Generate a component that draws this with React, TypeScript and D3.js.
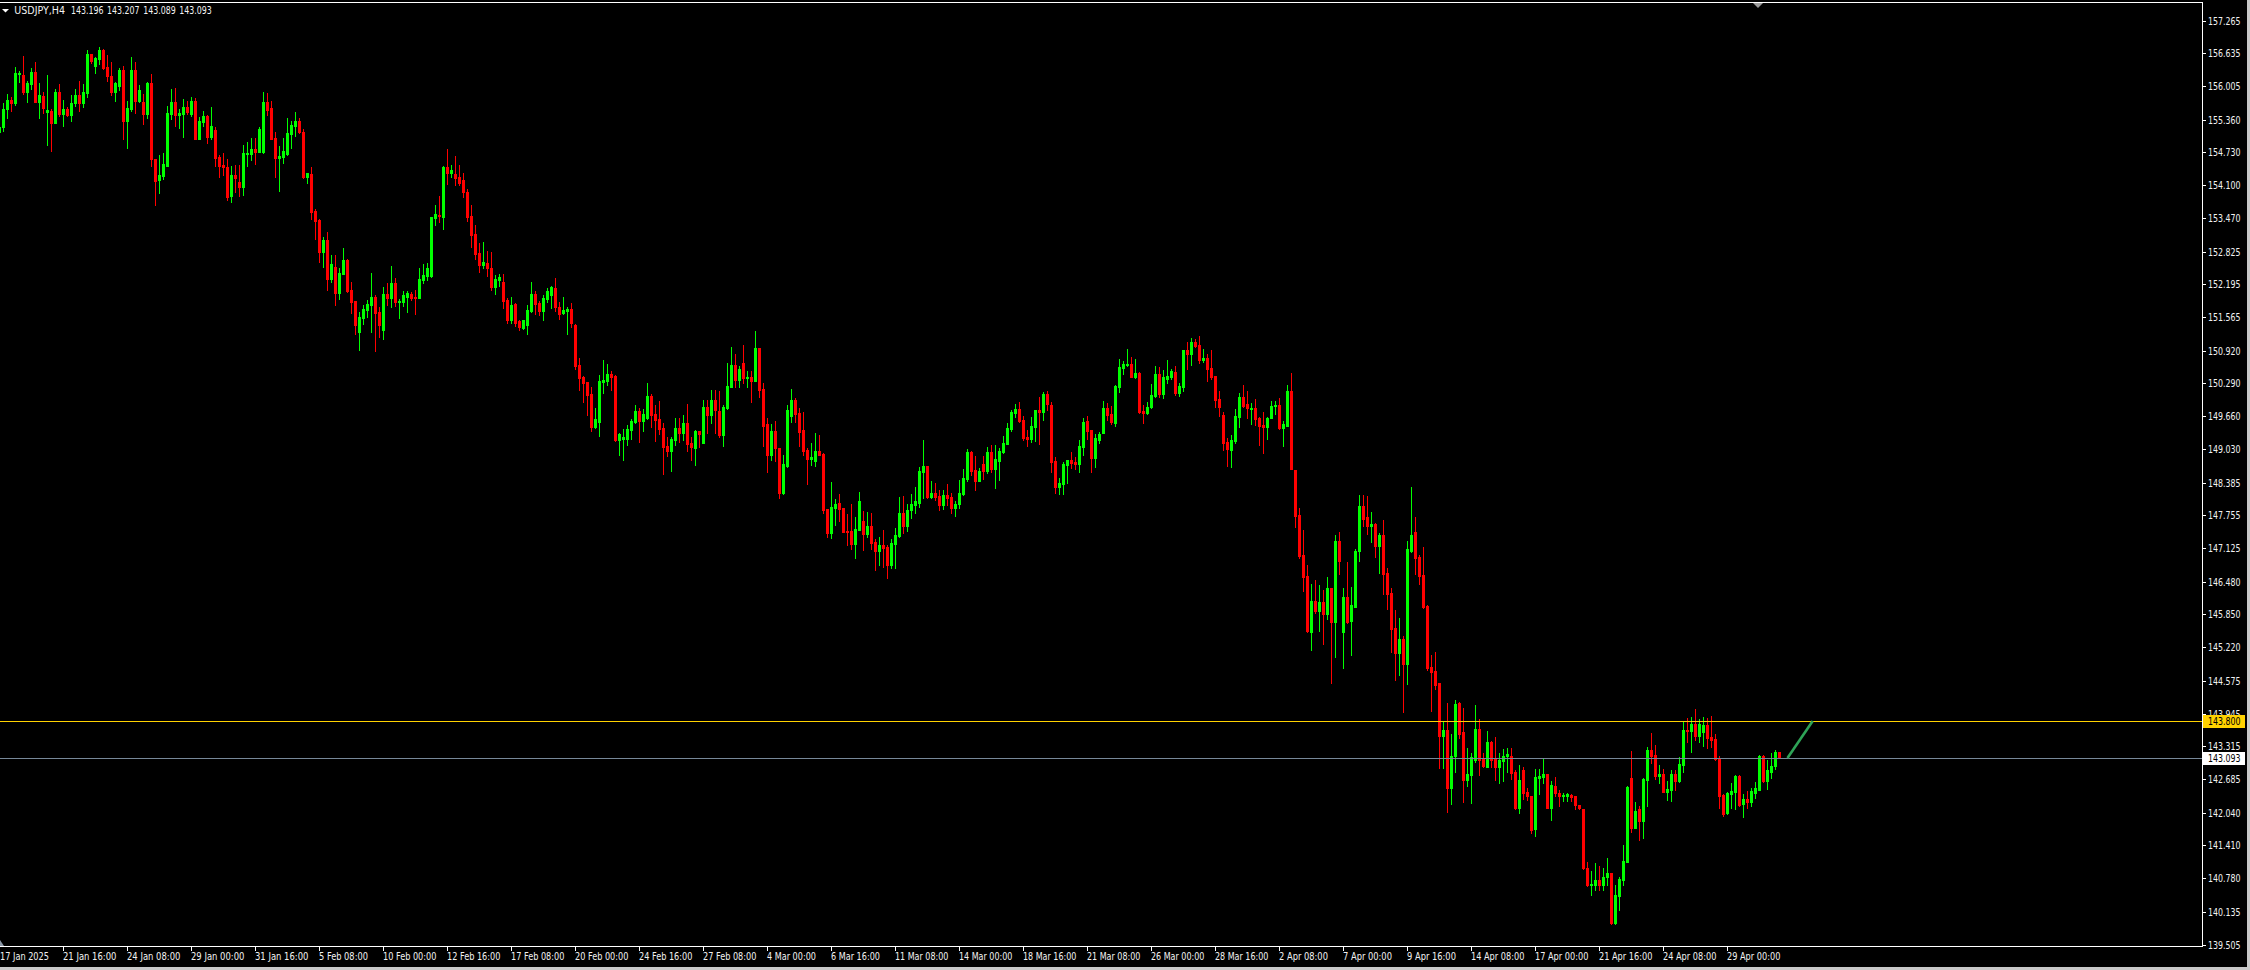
import * as d3 from "d3"

const symbolName = "USDJPY,H4"
const lastQuote = ["143.196", "143.207", "143.089", "143.093"]

// H4 bars as [open, high, low, close], 17 Jan 2025 00:00 onwards
const bars17Jan = [
  [155.12, 155.26, 155.10, 155.21], [155.21, 155.67, 155.15, 155.56], [155.56, 155.85, 155.40, 155.74], [155.74, 155.79, 155.53, 155.67],
  [155.67, 156.37, 155.65, 156.26], [156.24, 156.29, 156.09, 156.26], [156.22, 156.58, 155.85, 155.90], [155.90, 156.11, 155.70, 156.06],
  [156.05, 156.35, 155.94, 156.28], [156.28, 156.47, 155.70, 155.70], [155.70, 156.06, 155.40, 155.83], [155.81, 155.89, 155.48, 155.59],
  [155.51, 156.22, 154.88, 155.54], [155.53, 155.56, 154.76, 155.30], [155.30, 155.95, 155.30, 155.89], [155.89, 156.04, 155.43, 155.47],
  [155.47, 155.74, 155.24, 155.56], [155.56, 155.61, 155.42, 155.45], [155.44, 155.83, 155.34, 155.68], [155.67, 155.95, 155.63, 155.83],
  [155.83, 156.10, 155.53, 155.67], [155.67, 156.04, 155.61, 155.89], [155.88, 156.70, 155.80, 156.62], [156.62, 156.63, 156.44, 156.49],
  [156.40, 156.57, 156.26, 156.54], [156.53, 156.76, 156.43, 156.70], [156.70, 156.72, 156.33, 156.36], [156.37, 156.60, 156.10, 156.19],
  [156.20, 156.47, 155.83, 155.89], [155.89, 156.09, 155.72, 156.06], [156.01, 156.35, 155.93, 156.31], [156.31, 156.39, 154.99, 155.34],
  [155.34, 155.72, 154.82, 155.58], [155.56, 156.56, 155.53, 156.31], [156.31, 156.47, 155.49, 155.72], [155.72, 156.03, 155.70, 155.93],
  [155.70, 155.85, 155.28, 155.47], [155.47, 156.08, 155.40, 156.06], [156.06, 156.24, 154.46, 154.60], [154.60, 154.60, 153.71, 154.18],
  [154.19, 154.68, 153.94, 154.30], [154.28, 154.72, 154.21, 154.51], [154.46, 155.62, 154.46, 155.49], [155.47, 155.95, 155.37, 155.70],
  [155.70, 155.97, 155.24, 155.44], [155.44, 155.56, 155.19, 155.49], [155.47, 155.76, 155.03, 155.60], [155.60, 155.72, 155.47, 155.51],
  [155.47, 155.79, 155.42, 155.72], [155.72, 155.78, 154.99, 154.99], [154.99, 155.41, 154.99, 155.33], [155.32, 155.53, 155.24, 155.43],
  [155.43, 155.45, 154.92, 155.03], [155.03, 155.60, 154.99, 155.24], [155.16, 155.22, 154.46, 154.63], [154.64, 154.68, 154.26, 154.47],
  [154.49, 154.72, 154.30, 154.44], [154.45, 154.60, 153.82, 153.88], [153.90, 154.47, 153.78, 154.30], [154.30, 154.49, 153.97, 154.24],
  [154.16, 154.49, 153.90, 154.07], [154.07, 154.87, 153.92, 154.72], [154.70, 154.93, 154.47, 154.72], [154.70, 155.01, 154.59, 154.80],
  [154.80, 155.01, 154.51, 154.74], [154.74, 155.22, 154.74, 155.18], [154.74, 155.89, 154.72, 155.70], [155.70, 155.87, 155.45, 155.55],
  [155.58, 155.72, 154.99, 154.99], [155.01, 155.12, 154.26, 154.63], [154.63, 154.85, 153.99, 154.66], [154.65, 155.01, 154.53, 154.76],
  [154.70, 155.39, 154.68, 155.10], [155.09, 155.33, 154.82, 155.26], [155.24, 155.51, 155.05, 155.33], [155.33, 155.39, 155.10, 155.13],
]

const bars04Feb = [
  [155.13, 155.18, 154.24, 154.25], [154.26, 154.33, 154.15, 154.33], [154.32, 154.44, 153.45, 153.59], [153.61, 153.64, 153.07, 153.42],
  [153.44, 153.45, 152.63, 152.82], [152.82, 153.10, 152.53, 153.05], [153.05, 153.20, 152.09, 152.29], [152.29, 152.76, 152.23, 152.58],
  [152.53, 152.76, 151.80, 152.02], [152.02, 152.51, 151.92, 152.41], [152.40, 152.89, 152.40, 152.66], [152.66, 152.68, 152.05, 152.07],
  [152.08, 152.23, 151.65, 151.86], [151.87, 151.87, 151.23, 151.42], [151.28, 151.67, 150.94, 151.57], [151.55, 151.80, 151.44, 151.72],
  [151.70, 151.90, 151.57, 151.82], [151.80, 152.41, 151.28, 151.95], [151.96, 151.99, 150.92, 151.65], [151.67, 151.75, 151.19, 151.42],
  [151.32, 152.15, 151.15, 152.01], [152.01, 152.21, 151.80, 151.94], [151.94, 152.55, 151.75, 152.21], [152.21, 152.32, 151.78, 151.86],
  [151.86, 151.92, 151.55, 151.87], [151.86, 152.07, 151.78, 151.99], [151.96, 152.07, 151.67, 152.02], [152.01, 152.05, 151.90, 151.94],
  [151.96, 152.09, 151.63, 151.94], [151.94, 152.51, 151.94, 152.30], [152.28, 152.58, 152.21, 152.38], [152.36, 152.60, 152.28, 152.50],
  [152.36, 153.49, 152.34, 153.48], [153.46, 153.72, 153.34, 153.55], [153.53, 153.90, 153.40, 153.50], [153.49, 154.46, 153.26, 154.44],
  [154.44, 154.79, 154.13, 154.34], [154.34, 154.49, 154.26, 154.40], [154.32, 154.67, 154.11, 154.24], [154.26, 154.49, 154.11, 154.15],
  [154.19, 154.34, 153.88, 153.96], [153.97, 154.03, 153.42, 153.49], [153.51, 153.72, 152.91, 153.15], [153.17, 153.34, 152.69, 152.78],
  [152.80, 152.99, 152.44, 152.57], [152.57, 153.01, 152.51, 152.62], [152.60, 152.83, 152.36, 152.50], [152.51, 152.81, 152.09, 152.15],
  [152.15, 152.38, 152.01, 152.30], [152.28, 152.39, 152.17, 152.34], [152.23, 152.39, 151.73, 151.88], [151.90, 151.94, 151.46, 151.51],
  [151.51, 151.95, 151.46, 151.80], [151.82, 151.84, 151.40, 151.46], [151.48, 151.50, 151.32, 151.38], [151.36, 151.51, 151.34, 151.50],
  [151.42, 151.80, 151.23, 151.71], [151.69, 152.23, 151.67, 152.01], [152.01, 152.07, 151.63, 151.82], [151.84, 151.88, 151.61, 151.69],
  [151.69, 151.98, 151.51, 151.94], [151.92, 152.13, 151.86, 152.07], [151.98, 152.17, 151.73, 152.15], [152.13, 152.32, 151.69, 151.75],
  [151.75, 151.86, 151.53, 151.63], [151.65, 151.96, 151.63, 151.71], [151.69, 151.76, 151.23, 151.72], [151.72, 151.84, 151.38, 151.46],
  [151.42, 151.44, 150.57, 150.63], [150.64, 150.77, 150.17, 150.40], [150.42, 150.44, 149.94, 150.30], [150.32, 150.32, 149.69, 150.07],
  [150.09, 150.23, 149.38, 149.46], [149.46, 149.82, 149.44, 149.61], [149.54, 150.45, 149.27, 150.34],
]

const bars21Feb = [
  [150.32, 150.74, 150.11, 150.35], [150.34, 150.66, 150.25, 150.47], [150.47, 150.53, 150.17, 150.41], [150.43, 150.45, 149.18, 149.20],
  [149.21, 149.34, 148.92, 149.32], [149.23, 149.42, 148.82, 149.25], [149.23, 149.49, 149.11, 149.42], [149.40, 149.61, 149.23, 149.57],
  [149.55, 149.88, 149.53, 149.76], [149.76, 149.82, 149.17, 149.57], [149.57, 149.80, 149.38, 149.70], [149.63, 150.30, 149.61, 150.05],
  [150.05, 150.09, 149.46, 149.68], [149.70, 149.87, 149.19, 149.59], [149.61, 149.95, 149.32, 149.42], [149.44, 149.53, 148.55, 149.07],
  [149.09, 149.25, 148.90, 148.99], [149.00, 149.25, 148.61, 149.23], [149.21, 149.62, 149.11, 149.43], [149.43, 149.62, 149.17, 149.34],
  [149.34, 149.68, 149.21, 149.53], [149.53, 149.89, 149.00, 149.13], [149.15, 149.25, 148.81, 149.07], [149.04, 149.40, 148.73, 149.38],
  [149.38, 149.38, 149.07, 149.32], [149.15, 149.97, 149.15, 149.84], [149.84, 149.97, 149.34, 149.68], [149.68, 150.16, 149.52, 149.97],
  [149.97, 150.16, 149.34, 149.78], [149.76, 150.14, 149.26, 149.29], [149.29, 149.88, 149.09, 149.84], [149.82, 150.68, 149.79, 150.24],
  [150.22, 150.99, 150.22, 150.64], [150.64, 150.86, 150.22, 150.36], [150.36, 150.62, 150.22, 150.57], [150.68, 151.03, 150.30, 150.39],
  [150.39, 150.53, 150.22, 150.41], [150.41, 150.53, 149.94, 150.34], [150.34, 151.30, 150.34, 150.97], [150.97, 150.97, 150.03, 150.16],
  [150.18, 150.30, 149.09, 149.47], [149.51, 149.62, 148.59, 148.92], [148.92, 149.51, 148.82, 149.38], [149.38, 149.57, 148.79, 149.04],
  [149.05, 149.05, 148.09, 148.19], [148.19, 148.92, 148.17, 148.75], [148.71, 149.88, 148.69, 149.78], [149.66, 150.18, 149.55, 149.97],
  [149.97, 150.01, 149.55, 149.70], [149.72, 149.82, 149.09, 149.36], [149.39, 149.74, 148.92, 149.00], [149.01, 149.04, 148.36, 148.84],
  [148.84, 149.14, 148.73, 148.88], [148.80, 149.34, 148.71, 149.00], [149.00, 149.30, 148.92, 148.92], [148.94, 148.96, 147.79, 147.86],
  [147.88, 147.88, 147.34, 147.42], [147.42, 148.40, 147.31, 147.92], [147.90, 148.07, 147.56, 147.98], [147.99, 148.17, 147.65, 147.88],
  [147.90, 147.90, 147.44, 147.44], [147.46, 147.77, 147.19, 147.44], [147.46, 147.98, 147.11, 147.21], [147.21, 147.73, 146.94, 147.50],
  [147.48, 148.21, 147.48, 148.02], [147.65, 147.84, 147.08, 147.40], [147.40, 147.81, 147.33, 147.54], [147.54, 147.79, 147.11, 147.23],
  [147.25, 147.29, 146.71, 147.06], [147.06, 147.33, 146.79, 147.19], [147.19, 147.48, 146.77, 147.13], [147.15, 147.19, 146.54, 146.79],
  [146.79, 147.29, 146.75, 147.23], [147.21, 147.52, 146.75, 147.38], [147.35, 148.11, 147.33, 147.79],
]

const bars13Mar = [
  [147.79, 148.13, 147.42, 147.55], [147.55, 147.98, 147.45, 147.85], [147.85, 148.17, 147.70, 147.98], [147.95, 148.30, 147.80, 148.02],
  [148.00, 148.68, 147.92, 148.61], [148.59, 149.20, 148.08, 148.70], [148.70, 148.70, 148.08, 148.11], [148.11, 148.41, 148.08, 148.19],
  [148.19, 148.38, 148.05, 148.11], [148.13, 148.24, 147.85, 147.95], [147.95, 148.24, 147.88, 148.15], [148.15, 148.36, 147.95, 148.08],
  [148.10, 148.18, 147.80, 147.90], [147.90, 148.02, 147.75, 147.98], [147.98, 148.43, 147.90, 148.19], [148.17, 148.65, 148.15, 148.47],
  [148.45, 149.03, 148.42, 148.98], [148.98, 149.00, 148.52, 148.61], [148.63, 148.89, 148.25, 148.42], [148.42, 148.67, 148.42, 148.61],
  [148.74, 148.89, 148.46, 148.61], [148.61, 149.07, 148.56, 148.97], [148.97, 149.11, 148.59, 148.65], [148.65, 149.11, 148.27, 148.84],
  [148.80, 149.05, 148.44, 148.99], [148.97, 149.28, 148.95, 149.15], [149.13, 149.53, 149.13, 149.43], [149.41, 149.78, 149.38, 149.74],
  [149.72, 149.89, 149.65, 149.80], [149.80, 149.93, 149.55, 149.57], [149.59, 149.67, 149.20, 149.24], [149.26, 149.39, 149.09, 149.22],
  [149.22, 149.65, 149.17, 149.47], [149.45, 149.78, 149.18, 149.78], [149.78, 150.03, 149.13, 149.74], [149.74, 150.13, 149.59, 150.09],
  [150.09, 150.15, 149.78, 149.89], [149.88, 149.93, 148.59, 148.78], [148.80, 148.88, 148.19, 148.29], [148.29, 148.47, 148.17, 148.38],
  [148.36, 148.78, 148.17, 148.74], [148.72, 148.82, 148.38, 148.82], [148.82, 148.97, 148.67, 148.76], [148.78, 148.88, 148.65, 148.74],
  [148.74, 149.20, 148.58, 149.09], [149.07, 149.63, 148.91, 149.55], [149.57, 149.67, 149.22, 149.38], [149.39, 149.39, 148.59, 148.86],
  [148.86, 149.32, 148.69, 149.24], [149.20, 149.36, 149.15, 149.32], [149.34, 149.95, 149.34, 149.82], [149.82, 149.91, 149.59, 149.68],
  [149.70, 149.86, 149.51, 149.55], [149.53, 150.26, 149.47, 150.24], [150.22, 150.76, 150.13, 150.61], [150.59, 150.72, 150.47, 150.66],
  [150.64, 150.95, 150.63, 150.66], [150.66, 150.80, 150.41, 150.41], [150.41, 150.76, 150.39, 150.49], [150.49, 150.51, 149.72, 149.74],
  [149.76, 149.88, 149.53, 149.72], [149.72, 149.93, 149.70, 149.84], [149.84, 150.28, 149.82, 150.07], [150.05, 150.63, 150.03, 150.47],
  [150.47, 150.61, 150.03, 150.09], [150.09, 150.55, 150.01, 150.41], [150.37, 150.74, 150.30, 150.43], [150.41, 150.57, 150.37, 150.53],
  [150.51, 150.63, 150.07, 150.11], [150.11, 150.30, 150.05, 150.24], [150.22, 150.93, 150.15, 150.93], [150.93, 151.09, 150.57, 150.86],
  [150.86, 151.16, 150.64, 151.09], [151.09, 151.14, 150.99, 151.01],
]

const bars28Mar = [
  [151.03, 151.20, 150.68, 150.74], [150.74, 150.95, 150.70, 150.78], [150.78, 150.86, 150.34, 150.57], [150.59, 150.93, 150.38, 150.41],
  [150.43, 150.43, 149.84, 149.97], [149.99, 150.15, 149.66, 149.84], [149.68, 149.74, 149.01, 149.15], [149.17, 149.24, 148.70, 149.03],
  [149.01, 149.30, 148.68, 149.20], [149.18, 149.80, 149.15, 149.66], [149.65, 150.11, 149.45, 150.03], [150.03, 150.26, 149.84, 149.86],
  [149.89, 150.15, 149.63, 149.82], [149.80, 149.91, 149.51, 149.82], [149.82, 149.99, 149.49, 149.61], [149.63, 149.65, 149.11, 149.47],
  [149.49, 149.74, 148.95, 149.45], [149.45, 149.65, 149.22, 149.63], [149.63, 149.95, 149.63, 149.86], [149.86, 149.95, 149.70, 149.88],
  [149.88, 150.01, 149.41, 149.43], [149.43, 149.57, 149.09, 149.51], [149.47, 150.26, 149.47, 150.15], [150.15, 150.49, 148.65, 148.65],
  [148.63, 148.63, 147.53, 147.74], [147.76, 147.90, 146.94, 146.98], [147.00, 147.48, 146.29, 146.56], [146.58, 146.79, 145.52, 145.54],
  [145.52, 146.44, 145.17, 146.10], [146.10, 146.52, 145.88, 145.92], [145.92, 146.42, 145.54, 146.08], [146.08, 146.31, 145.29, 145.85],
  [145.85, 146.56, 145.77, 146.35], [146.35, 146.35, 144.54, 145.71], [145.71, 147.37, 145.04, 147.27], [147.27, 147.44, 146.63, 146.88],
  [145.52, 146.35, 144.81, 146.19], [146.19, 146.85, 145.68, 145.71], [145.73, 146.38, 145.06, 146.04], [146.00, 147.10, 146.00, 147.06],
  [147.06, 148.15, 146.88, 147.94], [147.94, 148.15, 147.54, 147.69], [147.73, 148.13, 147.40, 147.54], [147.54, 147.81, 147.25, 147.59],
  [147.59, 147.61, 146.96, 147.17], [147.17, 147.42, 146.65, 147.37], [147.37, 147.67, 146.25, 146.63], [146.65, 146.75, 145.96, 146.25],
  [146.27, 146.35, 145.13, 145.56], [145.58, 145.94, 144.58, 145.10], [145.10, 145.79, 144.69, 145.38], [145.38, 145.44, 143.98, 144.90],
  [144.90, 147.27, 144.52, 147.10], [147.06, 148.29, 147.04, 147.38], [147.44, 147.73, 146.63, 146.94], [146.96, 147.00, 146.44, 146.59],
  [146.61, 147.15, 145.98, 146.00], [146.02, 146.04, 144.79, 144.81], [144.83, 145.06, 143.99, 144.75], [144.77, 145.13, 144.42, 144.50],
  [144.54, 144.54, 142.89, 143.52], [143.52, 143.79, 142.89, 143.62], [143.62, 144.15, 142.06, 142.52], [142.52, 143.56, 142.21, 143.12],
  [143.12, 144.21, 142.83, 144.13], [144.15, 144.17, 143.48, 143.56], [143.58, 144.06, 142.25, 142.67], [142.67, 143.29, 142.56, 142.79],
  [142.77, 143.18, 142.23, 143.10], [143.06, 144.10, 143.02, 143.65], [143.65, 143.83, 142.77, 143.06], [143.08, 143.19, 142.91, 142.94],
  [142.92, 143.60, 142.91, 143.39], [143.39, 143.41, 142.91, 143.06], [143.08, 143.50, 142.67, 142.92],
]

const bars16Apr = [
  [142.92, 143.18, 142.60, 143.05], [143.04, 143.26, 142.65, 143.13], [143.12, 143.28, 142.83, 143.17], [143.13, 143.29, 142.69, 142.81],
  [142.83, 142.85, 142.10, 142.13], [142.13, 142.96, 142.04, 142.67], [142.85, 142.92, 142.31, 142.42], [142.44, 142.52, 142.29, 142.35],
  [142.35, 142.35, 141.64, 141.71], [141.73, 142.87, 141.60, 142.73], [142.71, 142.87, 142.39, 142.74], [142.73, 143.08, 142.60, 142.79],
  [142.79, 142.79, 142.13, 142.13], [142.13, 142.64, 141.89, 142.58], [142.56, 142.73, 142.35, 142.42], [142.42, 142.48, 142.16, 142.35],
  [142.35, 142.42, 142.27, 142.37], [142.35, 142.42, 142.27, 142.39], [142.38, 142.39, 142.26, 142.34], [142.36, 142.36, 142.10, 142.18],
  [142.18, 142.18, 142.11, 142.12], [142.11, 142.11, 140.95, 140.97], [140.98, 141.09, 140.62, 140.64], [140.64, 140.91, 140.46, 140.66],
  [140.64, 141.07, 140.56, 140.75], [140.75, 141.01, 140.56, 140.64], [140.64, 140.98, 140.56, 140.81], [140.81, 141.17, 140.64, 140.87],
  [140.87, 140.87, 139.89, 139.91], [139.91, 140.64, 139.89, 140.46], [140.44, 140.81, 140.16, 140.77], [140.75, 141.41, 140.64, 141.11],
  [141.10, 142.56, 141.10, 142.54], [142.71, 143.23, 141.66, 141.75], [141.75, 142.25, 141.74, 142.08], [142.10, 142.16, 141.52, 141.87],
  [141.87, 142.71, 141.56, 142.69], [142.67, 143.30, 142.17, 143.24], [143.24, 143.57, 143.00, 143.12], [143.15, 143.34, 142.69, 142.75],
  [142.75, 142.96, 142.60, 142.78], [142.79, 142.87, 142.44, 142.44], [142.44, 142.65, 142.28, 142.50], [142.48, 142.85, 142.27, 142.79],
  [142.79, 142.85, 142.48, 142.65], [142.65, 143.11, 142.62, 142.98], [142.96, 143.78, 142.83, 143.63], [143.63, 143.86, 143.40, 143.61],
  [143.61, 143.88, 143.21, 143.74], [143.74, 144.03, 143.44, 143.51], [143.51, 143.84, 143.40, 143.74], [143.59, 143.88, 143.32, 143.72],
  [143.72, 143.86, 143.28, 143.47], [143.49, 143.90, 143.30, 143.44], [143.46, 143.55, 143.05, 143.07], [143.09, 143.13, 142.12, 142.35],
  [142.37, 142.39, 141.98, 142.02], [142.04, 142.44, 142.02, 142.42], [142.40, 142.60, 142.12, 142.46], [142.44, 142.77, 142.10, 142.75],
  [142.75, 142.77, 142.17, 142.19], [142.21, 142.40, 141.96, 142.31], [142.31, 142.46, 142.13, 142.25], [142.25, 142.52, 142.16, 142.46],
  [142.42, 142.62, 142.33, 142.52], [142.48, 143.15, 142.48, 143.12], [143.12, 143.14, 142.63, 142.65], [142.65, 143.06, 142.50, 142.85],
  [142.83, 143.19, 142.71, 142.94], [142.94, 143.24, 142.87, 143.21], [143.196, 143.207, 143.089, 143.093],
]

const priceTicks = [
  157.265, 156.635, 156.005, 155.36, 154.73, 154.1, 153.47, 152.825, 152.195, 151.565, 150.92, 150.29, 149.66, 149.03, 148.385,
  147.755, 147.125, 146.48, 145.85, 145.22, 144.575, 143.945, 143.315, 142.685, 142.04, 141.41, 140.78, 140.135, 139.505,
]

// one label every 16 bars
const timeLabels = [
  "17 Jan 2025", "21 Jan 16:00", "24 Jan 08:00", "29 Jan 00:00", "31 Jan 16:00", "5 Feb 08:00", "10 Feb 00:00", "12 Feb 16:00",
  "17 Feb 08:00", "20 Feb 00:00", "24 Feb 16:00", "27 Feb 08:00", "4 Mar 00:00", "6 Mar 16:00", "11 Mar 08:00", "14 Mar 00:00",
  "18 Mar 16:00", "21 Mar 08:00", "26 Mar 00:00", "28 Mar 16:00", "2 Apr 08:00", "7 Apr 00:00", "9 Apr 16:00", "14 Apr 08:00",
  "17 Apr 00:00", "21 Apr 16:00", "24 Apr 08:00", "29 Apr 00:00",
]
const labelStep = 16

const alertLevel = 143.8
const bidPrice = 143.093
// green trend segment, [bar, price]
const trendPoints: [number, number][] = [[447, 143.09], [453.3, 143.8]]

const FONT = "'DejaVu Sans Condensed', 'Liberation Sans Narrow', sans-serif"

export default function App() {
  const width = 2250
  const height = 970
  const plotRight = 2202
  const plotTop = 2
  const plotBottom = 946

  const candles = [...bars17Jan, ...bars04Feb, ...bars21Feb, ...bars13Mar, ...bars28Mar, ...bars16Apr]
  const n = candles.length

  const x = d3.scaleLinear().domain([0, n - 1]).range([-1, 4 * (n - 1) - 1])
  const y = d3.scaleLinear().domain([139.505, 157.265]).range([944.5, 20.5])

  const trend = d3.line<[number, number]>()
    .x(d => x(d[0]) + 0.5)
    .y(d => y(d[1]))

  const alertY = Math.round(y(alertLevel)) + 0.5
  const bidY = Math.round(y(bidPrice)) + 0.5

  return (
    <svg
      width={width}
      height={height}
      style={{ position: "absolute", left: 0, top: 0, display: "block", background: "#000" }}
      fontFamily={FONT}
    >
      <rect x={0} y={0} width={width} height={height} fill="#000" />

      {/* candles */}
      <g shapeRendering="crispEdges">
        {candles.map(([o, h, l, c], i) => {
          const up = c >= o
          const col = up ? "#00ff00" : "#ff0000"
          const cx = Math.round(x(i))
          const wTop = Math.round(y(h))
          const wBot = Math.round(y(l))
          const bTop = Math.round(y(Math.max(o, c)))
          const bBot = Math.round(y(Math.min(o, c)))
          return (
            <g key={i}>
              <rect x={cx} y={wTop} width={1} height={Math.max(1, wBot - wTop + 1)} fill={col} />
              <rect x={cx - 1} y={bTop} width={3} height={Math.max(1, bBot - bTop + 1)} fill={col} />
            </g>
          )
        })}
      </g>

      {/* price levels */}
      <line x1={0} x2={plotRight} y1={alertY} y2={alertY} stroke="#ffd200" strokeWidth={1} />
      <line x1={0} x2={plotRight} y1={bidY} y2={bidY} stroke="#778899" strokeWidth={1} />

      <path d={trend(trendPoints) ?? ""} fill="none" stroke="#2ea357" strokeWidth={2.6} />

      {/* frame */}
      <g shapeRendering="crispEdges" stroke="#ffffff" strokeWidth={1}>
        <line x1={0} x2={plotRight + 0.5} y1={plotTop + 0.5} y2={plotTop + 0.5} />
        <line x1={plotRight + 0.5} x2={plotRight + 0.5} y1={plotTop} y2={plotBottom + 1} />
        <line x1={0} x2={plotRight + 0.5} y1={plotBottom + 0.5} y2={plotBottom + 0.5} />
      </g>

      {/* shift marker and scroll marker */}
      <path d="M1753,3 L1763,3 L1758,8 Z" fill="#9a9a9a" />
      <path d="M0,940 L0,946 L4,946 Z" fill="#8a96a6" />

      {/* price axis */}
      <g>
        {priceTicks.map(p => {
          const ty = Math.round(y(p)) + 0.5
          return (
            <g key={p}>
              <line x1={plotRight} x2={plotRight + 4} y1={ty} y2={ty} stroke="#fff" shapeRendering="crispEdges" />
              <text x={2208} y={ty + 3.6} fill="#f2f2f2" fontSize={10} textLength={32.5} lengthAdjust="spacingAndGlyphs">
                {p.toFixed(3)}
              </text>
            </g>
          )
        })}
      </g>

      {/* current level tags */}
      <rect x={2203} y={alertY - 6.5} width={42} height={13} fill="#ffd200" />
      <text x={2208} y={alertY + 3.6} fill="#000" fontSize={10} textLength={32.5} lengthAdjust="spacingAndGlyphs">
        {alertLevel.toFixed(3)}
      </text>
      <rect x={2203} y={bidY - 6.5} width={42} height={13} fill="#ffffff" />
      <text x={2208} y={bidY + 3.6} fill="#000" fontSize={10} textLength={32.5} lengthAdjust="spacingAndGlyphs">
        {bidPrice.toFixed(3)}
      </text>

      {/* time axis */}
      <g>
        {timeLabels.map((lab, k) => {
          const tx = Math.round(x(k * labelStep)) + 0.5
          return (
            <g key={lab}>
              {k > 0 && (
                <line x1={tx} x2={tx} y1={plotBottom} y2={plotBottom + 5} stroke="#fff" shapeRendering="crispEdges" />
              )}
              <text
                x={k === 0 ? 0 : tx - 0.5}
                y={959.5}
                fill="#f2f2f2"
                fontSize={10}
                textLength={lab.length * 4.45}
                lengthAdjust="spacingAndGlyphs"
              >
                {lab}
              </text>
            </g>
          )
        })}
      </g>

      {/* header */}
      <path d="M2,9 L9,9 L5.5,12.5 Z" fill="#fff" />
      <text x={14.3} y={14.3} fill="#f2f2f2" fontSize={10} textLength={50.7} lengthAdjust="spacingAndGlyphs">
        {symbolName}
      </text>
      {lastQuote.map((q, k) => (
        <text key={k} x={71 + k * 36.1} y={14.3} fill="#f2f2f2" fontSize={10} textLength={32.5} lengthAdjust="spacingAndGlyphs">
          {q}
        </text>
      ))}

      {/* window edges */}
      <rect x={2247} y={0} width={3} height={height} fill="#c8c8c8" />
      <rect x={0} y={967} width={width} height={3} fill="#c8c8c8" />
    </svg>
  )
}
